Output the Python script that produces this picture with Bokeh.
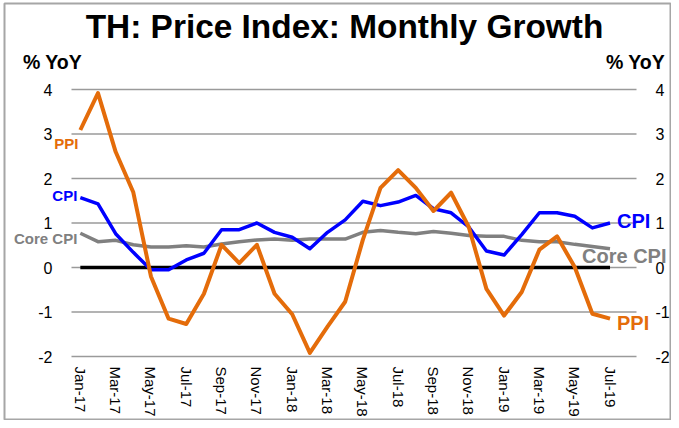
from bokeh.plotting import figure
from bokeh.models import LinearAxis, FixedTicker, Label, Range1d
from bokeh.core.properties import value
from bokeh.embed import file_html
from bokeh.resources import INLINE

months = ["Jan-17", "Feb-17", "Mar-17", "Apr-17", "May-17", "Jun-17", "Jul-17", "Aug-17",
          "Sep-17", "Oct-17", "Nov-17", "Dec-17", "Jan-18", "Feb-18", "Mar-18", "Apr-18",
          "May-18", "Jun-18", "Jul-18", "Aug-18", "Sep-18", "Oct-18", "Nov-18", "Dec-18",
          "Jan-19", "Feb-19", "Mar-19", "Apr-19", "May-19", "Jun-19", "Jul-19"]
ppi = [3.09, 3.92, 2.60, 1.69, -0.20, -1.15, -1.27, -0.59, 0.51, 0.10, 0.51, -0.59,
       -1.05, -1.92, -1.33, -0.77, 0.62, 1.79, 2.19, 1.79, 1.27, 1.68, 0.91, -0.48,
       -1.08, -0.55, 0.40, 0.70, 0.01, -1.04, -1.15]
cpi = [1.57, 1.43, 0.76, 0.34, -0.05, -0.05, 0.17, 0.32, 0.85, 0.85, 1.00, 0.79,
       0.68, 0.42, 0.79, 1.07, 1.49, 1.39, 1.47, 1.62, 1.32, 1.23, 0.91, 0.37,
       0.28, 0.74, 1.23, 1.23, 1.15, 0.89, 1.00]
core_cpi = [0.77, 0.58, 0.61, 0.51, 0.46, 0.46, 0.49, 0.46, 0.53, 0.58, 0.62, 0.64,
            0.61, 0.64, 0.64, 0.64, 0.79, 0.83, 0.79, 0.76, 0.81, 0.77, 0.72, 0.70,
            0.70, 0.61, 0.58, 0.58, 0.52, 0.47, 0.42]
n_slots = 32  # one empty category after Jul-19
y_ticks = [-2, -1, 0, 1, 2, 3, 4]
y_tick_text = {t: str(t) for t in y_ticks}   # plain hyphen minus, as in the original
tick_labels = {i: m for i, m in enumerate(months) if i % 2 == 0}

title_text = "TH: Price Index: Monthly Growth"
unit_text = "% YoY"

FONT = "Liberation Sans"
ORANGE = "#E46C0A"
BLUE = "#0000FF"
GREY = "#808080"
GRID = "#9A9A9A"

# ---- layout (pixels within the figure) ----
W, H = 671, 420
FL, FT, FR, FB = 4, 3, 671, 419          # frame box (whole chart area, with outline)
PL, PT, PR, PB = 71, 89, 636, 356        # plotting area holding the gridlines
x_lo, x_hi = -0.5, n_slots - 0.5
y_lo, y_hi = min(y_ticks), max(y_ticks)
xpx = (PR - PL) / (x_hi - x_lo)
ypx = (PB - PT) / (y_hi - y_lo)
x_range = Range1d(x_lo - (PL - FL) / xpx, x_hi + (FR - PR) / xpx)
y_range = Range1d(y_lo - (FB - PB) / ypx, y_hi + (PT - FT) / ypx)

x = list(range(len(months)))

p = figure(width=W, height=H, output_backend="svg", toolbar_location=None,
           x_range=x_range, y_range=y_range,
           min_border_left=FL, min_border_right=W - FR, min_border_top=FT,
           min_border_bottom=H - FB,
           background_fill_color="white", border_fill_color="white",
           x_axis_location=None, y_axis_location=None)
p.outline_line_color = "#A6A6A6"
p.outline_line_width = 2
p.title.visible = False
p.grid.visible = False

# axes placed at the edges of the plotting area (no tick marks)
xa = LinearAxis(fixed_location=y_lo, ticker=FixedTicker(ticks=list(tick_labels.keys())))
xa.major_label_overrides = tick_labels
xa.major_label_orientation = "vertical"
xa.major_label_text_font_size = "15px"
xa.major_tick_out = 0
xa.major_label_standoff = 10
p.add_layout(xa, "below")

ya = LinearAxis(fixed_location=x_lo, ticker=FixedTicker(ticks=y_ticks))
ra = LinearAxis(fixed_location=x_hi, ticker=FixedTicker(ticks=y_ticks))
p.add_layout(ya, "left")
p.add_layout(ra, "right")
for ax in (ya, ra):
    ax.major_label_overrides = y_tick_text
    ax.major_label_text_font_size = "16px"
    ax.major_tick_out = 0
    ax.major_label_standoff = 19
for ax in (xa, ya, ra):
    ax.major_label_text_font = FONT
    ax.major_label_text_color = "black"
    ax.axis_line_color = None
    ax.major_tick_line_color = None
    ax.minor_tick_line_color = None
    ax.major_tick_in = 0
    ax.minor_tick_in = 0
    ax.minor_tick_out = 0

# horizontal gridlines across the category span
p.segment(x0=[x_lo] * len(y_ticks), y0=y_ticks, x1=[x_hi] * len(y_ticks), y1=y_ticks,
          line_color=GRID, line_width=1.5)

# zero line across the data span
p.segment(x0=[x[0]], y0=[0], x1=[x[-1]], y1=[0], line_color="black", line_width=3.5)

# series
p.line(x, core_cpi, line_color=GREY, line_width=3.5, line_join="round")
p.line(x, cpi, line_color=BLUE, line_width=3.5, line_join="round")
p.line(x, ppi, line_color=ORANGE, line_width=4, line_join="round")

# series labels (left)
p.text(x=[x[0]], y=[ppi[0]], text=["PPI"], x_offset=-2, y_offset=13.5,
       text_align="right", text_baseline="middle", text_font=value(FONT),
       text_font_style="bold", text_font_size="15px", text_color=ORANGE)
p.text(x=[x[0]], y=[cpi[0]], text=["CPI"], x_offset=-3, y_offset=-2,
       text_align="right", text_baseline="middle", text_font=value(FONT),
       text_font_style="bold", text_font_size="15px", text_color=BLUE)
p.text(x=[x[0]], y=[core_cpi[0]], text=["Core CPI"], x_offset=-3, y_offset=5,
       text_align="right", text_baseline="middle", text_font=value(FONT),
       text_font_style="bold", text_font_size="15px", text_color=GREY)
# series labels (right)
p.text(x=[x[-1]], y=[cpi[-1]], text=["CPI"], x_offset=7, y_offset=-2.5,
       text_align="left", text_baseline="middle", text_font=value(FONT),
       text_font_style="bold", text_font_size="20px", text_color=BLUE)
p.text(x=[x[-1]], y=[core_cpi[-1]], text=["Core CPI"], x_offset=-28, y_offset=7,
       text_align="left", text_baseline="middle", text_font=value(FONT),
       text_font_style="bold", text_font_size="20px", text_color=GREY)
p.text(x=[x[-1]], y=[ppi[-1]], text=["PPI"], x_offset=7, y_offset=4,
       text_align="left", text_baseline="middle", text_font=value(FONT),
       text_font_style="bold", text_font_size="20px", text_color=ORANGE)

# title and unit labels (screen units from the frame's bottom-left)
p.add_layout(Label(x=344 - FL, y=FB - 26, x_units="screen", y_units="screen", text=title_text,
                   text_align="center", text_baseline="alphabetic", text_font=FONT,
                   text_font_style="bold", text_font_size="33.4px", text_color="black"))
p.add_layout(Label(x=52 - FL, y=FB - 61, x_units="screen", y_units="screen", text=unit_text,
                   text_align="center", text_baseline="alphabetic", text_font=FONT,
                   text_font_style="bold", text_font_size="19.5px", text_color="black"))
p.add_layout(Label(x=635 - FL, y=FB - 61, x_units="screen", y_units="screen", text=unit_text,
                   text_align="center", text_baseline="alphabetic", text_font=FONT,
                   text_font_style="bold", text_font_size="19.5px", text_color="black"))

open("out.html", "w").write(file_html(p, INLINE))
